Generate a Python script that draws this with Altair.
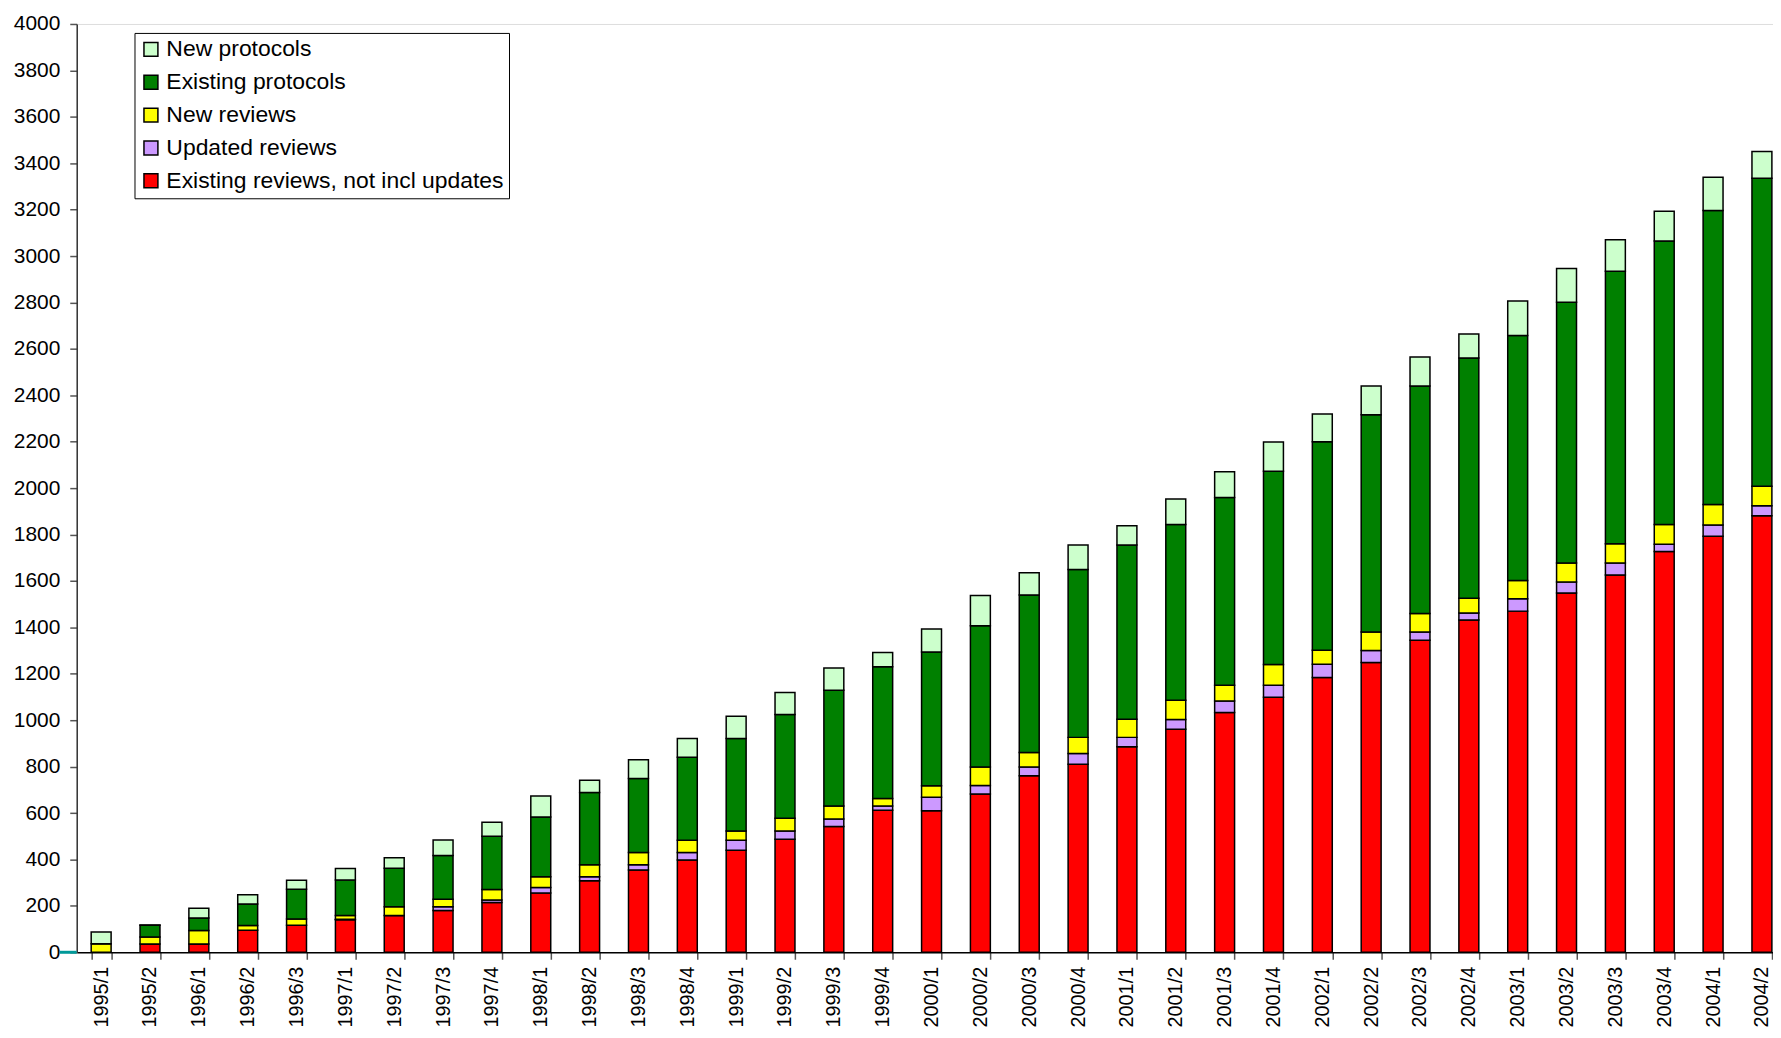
import altair as alt
import pandas as pd

categories = ["1995/1", "1995/2", "1996/1", "1996/2", "1996/3", "1997/1", "1997/2", "1997/3",
              "1997/4", "1998/1", "1998/2", "1998/3", "1998/4", "1999/1", "1999/2", "1999/3",
              "1999/4", "2000/1", "2000/2", "2000/3", "2000/4", "2001/1", "2001/2", "2001/3",
              "2001/4", "2002/1", "2002/2", "2002/3", "2002/4", "2003/1", "2003/2", "2003/3",
              "2003/4", "2004/1", "2004/2"]

existing_reviews = [0, 36, 36, 95, 116, 140, 159, 180, 215, 255, 308, 355, 398, 440, 487, 542,
                    612, 610, 682, 761, 810, 886, 961, 1033, 1099, 1184, 1249, 1344, 1432, 1470,
                    1548, 1626, 1727, 1793, 1881]
updated_reviews = [0, 0, 0, 0, 0, 2, 0, 16, 10, 24, 17, 22, 32, 43, 36, 32,
                   18, 58, 37, 37, 47, 40, 42, 50, 52, 57, 51, 36, 30, 53,
                   47, 51, 31, 48, 43]
new_reviews = [37, 30, 58, 20, 27, 17, 37, 33, 45, 46, 52, 53, 53, 40, 54, 56,
               33, 50, 79, 63, 69, 78, 83, 68, 89, 60, 80, 80, 63, 79,
               82, 83, 85, 88, 84]
existing_protocols = [0, 50, 54, 93, 129, 152, 166, 188, 230, 258, 311, 319, 357, 398, 448, 499,
                      567, 576, 609, 679, 723, 751, 757, 809, 833, 899, 936, 980, 1036, 1056,
                      1124, 1175, 1222, 1267, 1327]
new_protocols = [50, 2, 42, 40, 38, 50, 45, 67, 60, 90, 53, 81, 81, 96, 94, 96,
                 62, 99, 130, 95, 106, 83, 110, 111, 126, 119, 124, 125, 103, 148,
                 145, 135, 128, 144, 115]

series_names = ["Existing reviews, not incl updates", "Updated reviews", "New reviews",
                "Existing protocols", "New protocols"]
series_values = [existing_reviews, updated_reviews, new_reviews, existing_protocols, new_protocols]
series_colors = ["#FF0000", "#CC99FF", "#FFFF00", "#008000", "#CCFFCC"]

rows = []
for idx, (name, vals) in enumerate(zip(series_names, series_values)):
    for cat, v in zip(categories, vals):
        rows.append({"period": cat, "series": name, "value": v, "stack_idx": idx})
df = pd.DataFrame(rows)

legend_order = list(reversed(series_names))
legend_colors = list(reversed(series_colors))

FONT = "Liberation Sans"

bars = alt.Chart(df).mark_bar(stroke="black", strokeWidth=1.5).encode(
    x=alt.X("period:N", sort=categories,
            scale=alt.Scale(range=[0, 1716.4], paddingInner=0.592, paddingOuter=0.296),
            axis=alt.Axis(title=None, labelAngle=-90, tickBand="extent", tickSize=7,
                          tickColor="#555555", tickWidth=1.5, labelPadding=7,
                          labelFontSize=20, labelFont=FONT, labelColor="black",
                          domainColor="black", domainWidth=1.5)),
    y=alt.Y("value:Q", stack="zero",
            scale=alt.Scale(domain=[0, 4000], nice=False),
            axis=alt.Axis(title=None, values=list(range(0, 4001, 200)), grid=False,
                          format="d",
                          tickSize=7, tickColor="#555555", tickWidth=1.5, labelPadding=10,
                          labelFontSize=21, labelFont=FONT, labelColor="black",
                          domainColor="#333333", domainWidth=1.5)),
    color=alt.Color("series:N",
                    scale=alt.Scale(domain=legend_order, range=legend_colors),
                    legend=alt.Legend(title=None, orient="none", legendX=58, legendY=9,
                                      direction="vertical", fillColor="white",
                                      strokeColor="black", padding=5,
                                      symbolType="square", symbolSize=196,
                                      symbolStrokeColor="black", symbolStrokeWidth=1.5,
                                      symbolOpacity=1,
                                      labelFontSize=23, labelFont=FONT, labelColor="black",
                                      rowPadding=9, labelOffset=4, labelLimit=600)),
    order=alt.Order("stack_idx:Q", sort="ascending"),
)

zero_mark = alt.Chart(pd.DataFrame({"v": [0]})).mark_rule(
    color="#009999", strokeWidth=3
).encode(y="v:Q", x=alt.value(-17), x2=alt.value(0))

chart = alt.layer(bars, zero_mark).properties(
    width=1703, height=932,
    autosize=alt.AutoSizeParams(type="none"),
    padding={"left": 69, "top": 14, "right": 0, "bottom": 76},
).configure_view(stroke=None).configure(font=FONT, background="white")

chart.save("out.html", embed_options={"renderer": "svg", "actions": False})
